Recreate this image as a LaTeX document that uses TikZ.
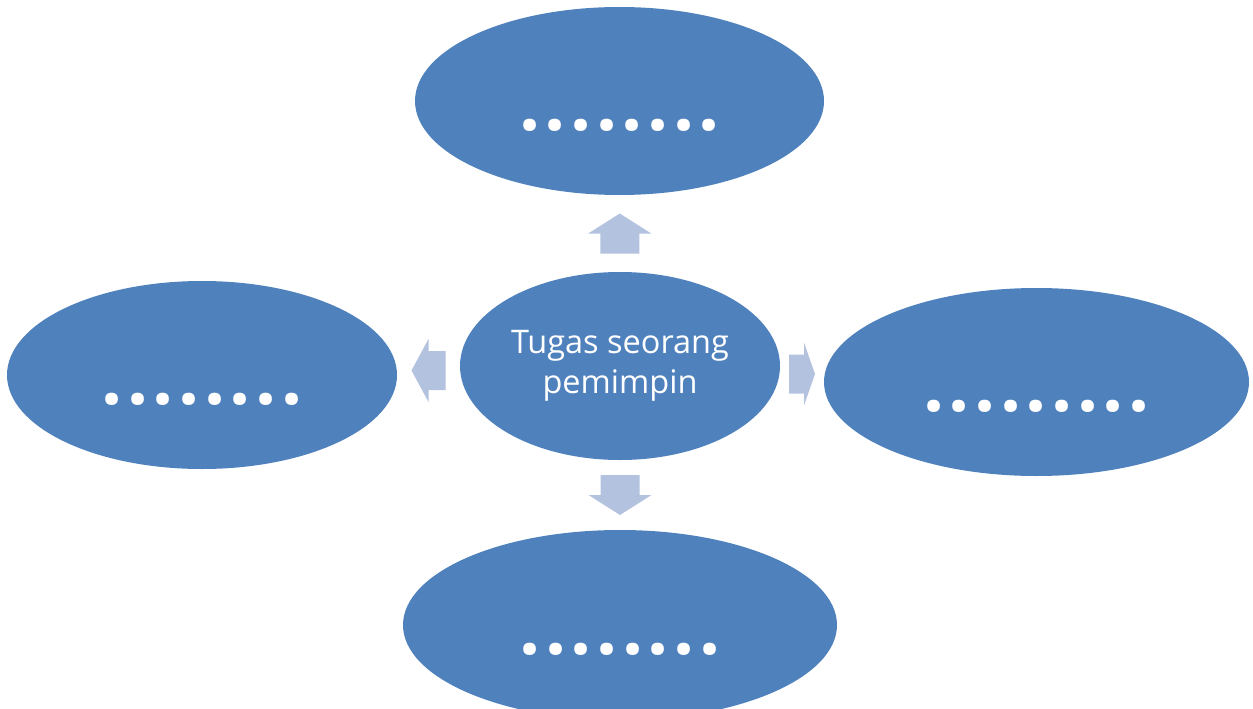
\documentclass[tikz,border=0pt]{standalone}
\usepackage{fontspec}
\setmainfont{Open Sans}
\usetikzlibrary{shapes.geometric,calc}
\definecolor{ellcol}{HTML}{4F81BD}
\definecolor{arrcol}{HTML}{B3C2DE}
\tikzstyle{ell}=[ellipse,fill=ellcol,text=white,inner sep=0pt]
\tikzstyle{dotell}=[ell,font=\fontsize{74}{74}\selectfont\bfseries,text height=58pt,text depth=0pt]
\newcommand\dotrow[1]{\foreach \i in {1,...,#1}{\makebox[25.7pt]{.}}}

\begin{document}
\begin{tikzpicture}[x=1pt,y=-1pt,
  pics/blockarr/.style 2 args={code={
    \fill[arrcol] (0,-#1/2) -- (31.5,-#1/2+#2) -- (19.5,-#1/2+#2) -- (19.5,#1/2)
      -- (-19.5,#1/2) -- (-19.5,-#1/2+#2) -- (-31.5,-#1/2+#2) -- cycle;
  }}]
  \useasboundingbox (0,0) rectangle (1253,709);
  % Ellipses
  \node[ell,minimum width=320pt,minimum height=188pt,align=center,
    font=\fontsize{32.5}{40}\selectfont] (task) at (620,366) {Tugas seorang\\pemimpin};
  \node[dotell,minimum width=409pt,minimum height=188pt] (top) at (619.5,101) {\dotrow{8}};
  \node[dotell,minimum width=390pt,minimum height=188pt] (lft) at (202,375) {\dotrow{8}};
  \node[dotell,minimum width=425pt,minimum height=188pt] (rgt) at (1036.5,382) {\dotrow{9}};
  \node[dotell,minimum width=434pt,minimum height=190pt] (bot) at (620,625) {\dotrow{8}};
  % Arrows
  \pic at ($(task.north)!.5!(top.south)$) {blockarr={40}{20}};
  \pic[rotate=180] at ($(task.south)!.5!(bot.north)$) {blockarr={40}{20}};
  \pic[rotate=90] at ($(task.west)!.5!(lft.east)$) {blockarr={34}{17}};
  \pic[rotate=-90] at ($(task.east)!.5!(rgt.west)$) {blockarr={26}{11}};
\end{tikzpicture}
\end{document}
